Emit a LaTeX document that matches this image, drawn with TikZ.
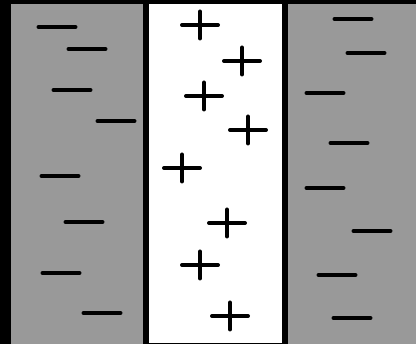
\documentclass[tikz,border=0pt]{standalone}
\usetikzlibrary{positioning}
\definecolor{plategray}{RGB}{153,153,153}

\begin{document}
\begin{tikzpicture}[x=1pt, y=-1pt,
    plate/.style={fill=plategray, inner sep=0pt, minimum height=340pt, anchor=north west},
    charge/.style={line width=4pt, line cap=round}]
  \useasboundingbox (0,0) rectangle (416,344);
  % black frame behind the plates
  \fill[black] (0,0) rectangle (416,344);

  % Left plate, gap and right plate
  \node (leftplate) [plate, minimum width=132pt] at (11,4) {};
  \node (gap) [fill=white, inner sep=0pt, minimum width=133pt, minimum height=339pt, anchor=north west] at (149,4) {};
  \node (rightplate) [plate, minimum width=128pt] at (288,4) {};

  % Negative charges on the left plate
  \foreach \x/\y in {57/27, 87/49, 72/90, 116/121, 60/176, 84/222, 61/273, 102/313}
    \draw[charge] (\x-18.5,\y) -- (\x+18.5,\y);

  % Negative charges on the right plate
  \foreach \x/\y in {353/19, 366/53, 325/93, 349/143, 325/188, 372/231, 337/275, 352/318}
    \draw[charge] (\x-18.5,\y) -- (\x+18.5,\y);

  % Positive charges in the gap
  \foreach \x/\y in {200/25, 242/61, 204/96, 248/130, 182/168, 227/223, 200/265, 230/316}
    \draw[charge] (\x-18,\y) -- (\x+18,\y) (\x,\y-13.5) -- (\x,\y+13.5);
\end{tikzpicture}
\end{document}
